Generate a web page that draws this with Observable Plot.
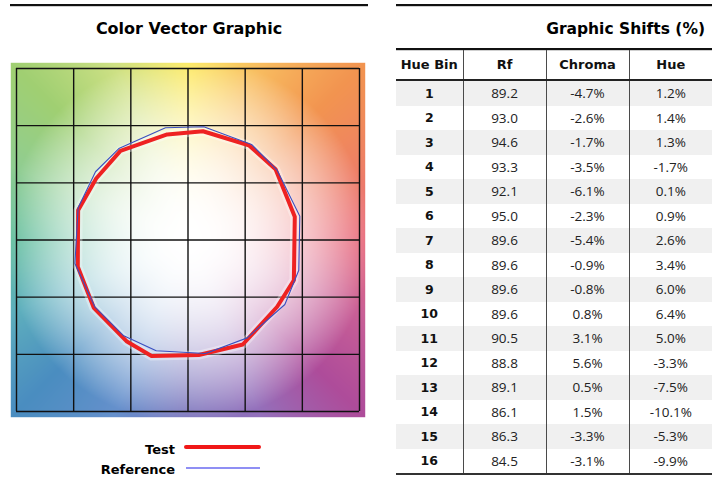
<!DOCTYPE html>
<html><head><meta charset="utf-8">
<script src="https://cdn.jsdelivr.net/npm/d3@7"></script>
<script src="https://cdn.jsdelivr.net/npm/@observablehq/plot@0.6"></script>
<style>
body{margin:0;background:#fff;width:723px;height:477px;position:relative;overflow:hidden;font-family:"DejaVu Sans",sans-serif}
#overlay{position:absolute;left:0;top:0}
#chart{position:absolute;left:0;top:55px}
#tbl{position:absolute;left:396px;top:50px;border-collapse:collapse;table-layout:fixed;width:316px;border-bottom:2px solid #333}
#tbl th{height:29px;padding:0;font:bold 13px "DejaVu Sans",sans-serif;color:#111;border-bottom:2px solid #222;text-align:center}
#tbl td{height:24.5px;padding:0;text-align:center;font:13.5px "Open Sans",sans-serif;color:#222}
#tbl td:first-child{font:bold 12.5px "DejaVu Sans",sans-serif;color:#111}
#tbl th+th,#tbl td+td{border-left:1.5px solid #4a4a4a}
#tbl tbody tr:nth-child(odd){background:#f0f0f0}
</style></head><body>
<svg id="overlay" width="723" height="477">
  <rect x="10" y="4" width="358" height="2.2" fill="#111"/>
  <text x="189" y="34" text-anchor="middle" font-family="DejaVu Sans" font-weight="bold" font-size="16" fill="#000">Color Vector Graphic</text>
  <rect x="396" y="4" width="316" height="2.2" fill="#111"/>
  <text x="705" y="34" text-anchor="end" font-family="DejaVu Sans" font-weight="bold" font-size="15.5" fill="#000">Graphic Shifts (%)</text>
  <rect x="396" y="48" width="316" height="2.2" fill="#111"/>
  <text x="175" y="454" text-anchor="end" font-family="DejaVu Sans" font-weight="bold" font-size="13" fill="#000">Test</text>
  <line x1="186" y1="447" x2="259" y2="447" stroke="#f01818" stroke-width="4" stroke-linecap="round"/>
  <text x="175" y="474" text-anchor="end" font-family="DejaVu Sans" font-weight="bold" font-size="13" fill="#000">Reference</text>
  <line x1="186" y1="468" x2="260" y2="468" stroke="#6a6af0" stroke-width="1.5"/>
</svg>
<div id="chart"></div>
<table id="tbl"><colgroup><col style="width:67px"><col style="width:83px"><col style="width:83px"><col style="width:83px"></colgroup><thead></thead><tbody></tbody></table>
<script>
// ---- data ----
const columns = ["Hue Bin", "Rf", "Chroma", "Hue"];
const hueBins = [1,2,3,4,5,6,7,8,9,10,11,12,13,14,15,16];
const rf = [89.2,93.0,94.6,93.3,92.1,95.0,89.6,89.6,89.6,89.6,90.5,88.8,89.1,86.1,86.3,84.5];
const chromaShift = [-4.7,-2.6,-1.7,-3.5,-6.1,-2.3,-5.4,-0.9,-0.8,0.8,3.1,5.6,0.5,1.5,-3.3,-3.1];
const hueShift = [1.2,1.4,1.3,-1.7,0.1,0.9,2.6,3.4,6.0,6.4,5.0,-3.3,-7.5,-10.1,-5.3,-9.9];
const refX = [0.978,0.780,0.556,0.138,-0.197,-0.605,-0.809,-0.961,-0.989,-0.815,-0.562,-0.278,0.153,0.518,0.847,0.969];
const refY = [0.208,0.611,0.836,0.990,0.982,0.800,0.597,0.282,-0.206,-0.584,-0.838,-0.969,-0.993,-0.856,-0.564,-0.264];
const testX = [0.934,0.766,0.532,0.131,-0.182,-0.591,-0.803,-0.961,-0.964,-0.824,-0.538,-0.319,0.094,0.479,0.780,0.926];
const testY = [0.203,0.619,0.829,0.951,0.923,0.780,0.538,0.261,-0.234,-0.593,-0.885,-1.015,-1.006,-0.914,-0.584,-0.352];
const gridTicks = [-1.5,-1,-0.5,0,0.5,1,1.5];

// background hue wheel (style)
const hueAngles = [0,22.5,45,67.5,90,112.5,135,157.5,180,202.5,225,247.5,270,292.5,315,337.5,360];
const hueColors = ["#e8687a","#ee7f66","#f29450","#f8bd60","#fce95e","#cfe185","#a0cf72","#90cd92","#5fbc9c","#5eafbd","#4a8dc0","#6690cc","#7a72bb","#9470bb","#ae4c9a","#ca6096","#e8687a"];
function hueColor(a){
  let i = 0; while (i < hueAngles.length - 2 && a > hueAngles[i+1]) i++;
  const t = (a - hueAngles[i]) / (hueAngles[i+1] - hueAngles[i]);
  return d3.interpolateRgb(hueColors[i], hueColors[i+1])(t);
}
function bg(x, y){
  const a = (Math.atan2(y, x) * 180 / Math.PI + 360) % 360;
  const r = Math.hypot(x, y);
  const t = Math.pow(Math.min(1, r / 1.6), 2.2);
  return d3.interpolateRgb("#ffffff", hueColor(a))(t);
}

const ref = hueBins.map((b,i) => ({bin:b, x:refX[i], y:refY[i]}));
const test = hueBins.map((b,i) => ({bin:b, x:testX[i], y:testY[i]}));

const chart = Plot.plot({
  width: 380, height: 370,
  marginLeft: 16, marginRight: 21, marginTop: 13, marginBottom: 14,
  x: {domain: [-1.5, 1.5], axis: null},
  y: {domain: [-1.5, 1.5], axis: null},
  color: {type: "identity"},
  marks: [
    Plot.raster({x1: -1.55, x2: 1.55, y1: -1.55, y2: 1.55, fill: bg, pixelSize: 1}),
    Plot.ruleX(gridTicks, {y1: -1.5, y2: 1.5, stroke: "#111", strokeWidth: 1.4}),
    Plot.ruleY(gridTicks, {x1: -1.5, x2: 1.5, stroke: "#111", strokeWidth: 1.4}),
    Plot.line(test, {x: "x", y: "y", curve: "linear-closed", stroke: "#fff", strokeWidth: 9, strokeOpacity: 0.35}),
    Plot.line(test, {x: "x", y: "y", curve: "linear-closed", stroke: "#ee2222", strokeWidth: 4, strokeLinejoin: "round"}),
    Plot.line(ref, {x: "x", y: "y", curve: "linear-closed", stroke: "#3a4fc0", strokeWidth: 1.1})
  ]
});
document.getElementById("chart").append(chart);

// table
const thead = d3.select("#tbl thead").append("tr");
thead.selectAll("th").data(columns).join("th").text(d => d);
const fmtPct = v => v.toFixed(1) + "%";
d3.select("#tbl tbody").selectAll("tr").data(hueBins).join("tr")
  .selectAll("td").data((b, i) => [String(b), rf[i].toFixed(1), fmtPct(chromaShift[i]), fmtPct(hueShift[i])])
  .join("td").text(d => d);
</script>
</body></html>
